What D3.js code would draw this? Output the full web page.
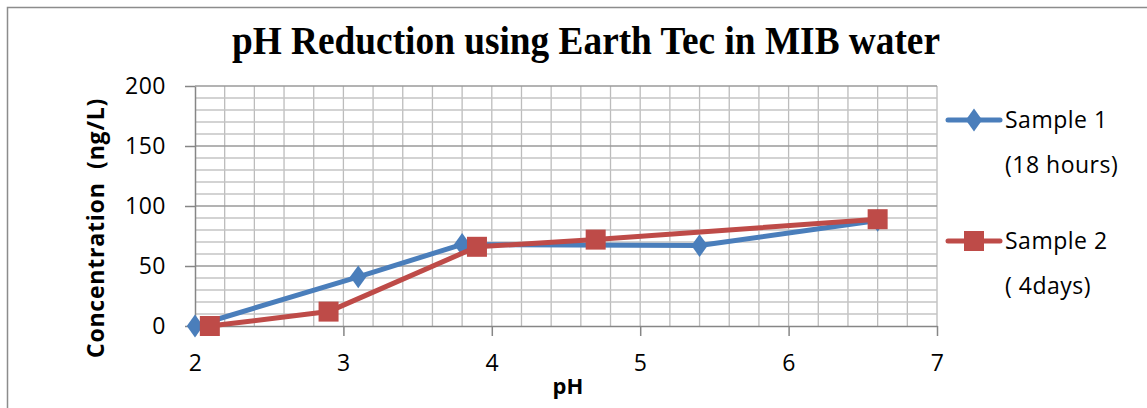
<!DOCTYPE html>
<html>
<head>
<meta charset="utf-8">
<script src="https://cdn.jsdelivr.net/npm/d3@7"></script>
<style>
  html, body { margin: 0; padding: 0; background: #fff; }
  svg { display: block; }
</style>
</head>
<body>
<svg id="chart" width="1147" height="408"></svg>
<script>
// pH readings and MIB concentrations for the two sampling times
const sample1PH   = [2.0, 3.1, 3.8, 5.4, 6.6];
const sample1Conc = [0, 41, 68, 67, 88];
const sample2PH   = [2.1, 2.9, 3.9, 4.7, 6.6];
const sample2Conc = [0, 12, 66, 72, 89];

const xTicks = [2, 3, 4, 5, 6, 7];
const yTicks = [0, 50, 100, 150, 200];
const seriesNames = [["Sample 1", "(18 hours)"], ["Sample 2", "( 4days)"]];

const svg = d3.select("#chart");
const W = 1147, H = 408;
const plot = { left: 195, right: 937, top: 86, bottom: 326 };
const labelFont = "'Open Sans', 'Noto Sans', sans-serif";

// chart frame
svg.append("rect")
  .attr("x", 7.5).attr("y", 7.5)
  .attr("width", W + 20).attr("height", H + 20)
  .attr("fill", "#fff").attr("stroke", "#8c8c8c").attr("stroke-width", 1.5);

const x = d3.scaleLinear().domain([2, 7]).range([plot.left, plot.right]);
const y = d3.scaleLinear().domain([0, 200]).range([plot.bottom, plot.top]);

// grid: minor every 0.2 pH / 10 ng/L, major every 50 ng/L
const grid = svg.append("g");
d3.range(2.2, 7.0001, 0.2).forEach(v => {
  grid.append("line")
    .attr("x1", x(v)).attr("x2", x(v))
    .attr("y1", plot.top).attr("y2", plot.bottom)
    .attr("stroke", "#bcbcbc").attr("stroke-width", 1.3);
});
d3.range(10, 200.001, 10).forEach(v => {
  const major = Math.round(v) % 50 === 0;
  grid.append("line")
    .attr("x1", plot.left).attr("x2", plot.right)
    .attr("y1", y(v)).attr("y2", y(v))
    .attr("stroke", major ? "#9a9a9a" : "#c4c4c4")
    .attr("stroke-width", major ? 1.5 : 1.3);
});

// axes
const xAxis = d3.axisBottom(x).tickValues(xTicks).tickFormat(d3.format("d"))
  .tickSizeInner(10).tickSizeOuter(0).tickPadding(18);
const yAxis = d3.axisLeft(y).tickValues(yTicks).tickFormat(d3.format("d"))
  .tickSizeInner(10).tickSizeOuter(0).tickPadding(19);

const gx = svg.append("g").attr("transform", `translate(0,${plot.bottom})`).call(xAxis);
const gy = svg.append("g").attr("transform", `translate(${plot.left},0)`).call(yAxis);
[gx, gy].forEach(g => {
  g.selectAll("path, line").attr("stroke", "#868686").attr("stroke-width", 1.5);
  g.selectAll("text").attr("fill", "#000")
    .style("font-family", labelFont).style("font-size", "23px")
    .style("letter-spacing", "0.5px");
});
gx.selectAll("text").attr("dy", "0.75em");

// series
const series = [
  { px: sample1PH, vals: sample1Conc, color: "#4a7ebb", shape: "diamond" },
  { px: sample2PH, vals: sample2Conc, color: "#be4b48", shape: "square" }
];
const line = d3.line().x(d => x(d[0])).y(d => y(d[1]));
const diamond = d3.symbol().type(d3.symbolDiamond).size(150);

function drawMarker(g, cx, cy, s) {
  if (s.shape === "diamond") {
    g.append("path").attr("d", diamond())
      .attr("transform", `translate(${cx},${cy}) scale(1.25,1)`)
      .attr("fill", s.color);
  } else {
    g.append("rect").attr("x", cx - 10).attr("y", cy - 10)
      .attr("width", 20).attr("height", 20).attr("fill", s.color);
  }
}

series.forEach(s => {
  const pts = s.px.map((p, i) => [p, s.vals[i]]);
  const g = svg.append("g");
  g.append("path").datum(pts).attr("d", line)
    .attr("fill", "none").attr("stroke", s.color)
    .attr("stroke-width", 5).attr("stroke-linejoin", "round");
  pts.forEach(p => drawMarker(g, x(p[0]), y(p[1]), s));
});

// title
svg.append("text")
  .attr("x", 232).attr("y", 54)
  .attr("textLength", 708).attr("lengthAdjust", "spacingAndGlyphs")
  .style("font-family", "'Liberation Serif', 'Times New Roman', serif")
  .style("font-weight", "bold").style("font-size", "40px")
  .text("pH Reduction using Earth Tec in MIB water");

// axis titles
svg.append("text")
  .attr("x", 568).attr("y", 394).attr("text-anchor", "middle")
  .style("font-family", labelFont).style("font-weight", "bold").style("font-size", "22px")
  .text("pH");
svg.append("text")
  .attr("transform", "translate(104,228) rotate(-90)")
  .attr("text-anchor", "middle")
  .style("font-family", labelFont).style("font-weight", "bold").style("font-size", "23px")
  .style("letter-spacing", "0.8px")
  .attr("xml:space", "preserve")
  .text("Concentration  (ng/L)");

// legend
const legendY = [120, 241];
series.forEach((s, i) => {
  const g = svg.append("g");
  g.append("line").attr("x1", 948).attr("x2", 1000)
    .attr("y1", legendY[i]).attr("y2", legendY[i])
    .attr("stroke", s.color).attr("stroke-width", 5).attr("stroke-linecap", "round");
  drawMarker(g, 974, legendY[i], s);
  seriesNames[i].forEach((t, j) => {
    g.append("text").attr("x", 1005).attr("y", legendY[i] + 8 + j * 45)
      .attr("xml:space", "preserve")
      .style("font-family", labelFont).style("font-size", "23px")
      .style("letter-spacing", "0.5px")
      .text(t);
  });
});
</script>
</body>
</html>
